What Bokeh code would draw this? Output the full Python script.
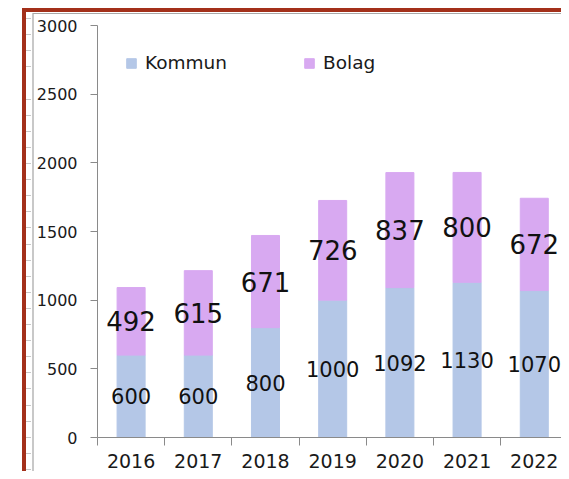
from bokeh.plotting import figure
from bokeh.models import ColumnDataSource, FixedTicker, Legend, LegendItem
from bokeh.core.properties import value
from bokeh.embed import file_html
from bokeh.resources import INLINE

# ---- data ----
years = ["2016", "2017", "2018", "2019", "2020", "2021", "2022"]
kommun = [600, 600, 800, 1000, 1092, 1130, 1070]
bolag = [492, 615, 671, 726, 837, 800, 672]
y_ticks = [0, 500, 1000, 1500, 2000, 2500, 3000]
series_names = ["Kommun", "Bolag"]
series_colors = ["#b4c7e7", "#d8a9f1"]

FONT = "DejaVu Sans"
RED = "#a3301a"
LIGHT = "#c8c8c8"

idx = list(range(len(years)))
total = [k + b for k, b in zip(kommun, bolag)]
src = ColumnDataSource(dict(
    x=idx,
    kommun=kommun,
    total=total,
    kmid=[k / 2 for k in kommun],
    bmid=[k + b / 2 for k, b in zip(kommun, bolag)],
    klab=[str(k) for k in kommun],
    blab=[str(b) for b in bolag],
))

# slide-frame decoration drawn as CSS background of the figure element
deco = ", ".join([
    f"repeating-linear-gradient(to bottom, rgba(0,0,0,0) 0px, rgba(0,0,0,0) 15.1px, {LIGHT} 15.1px, {LIGHT} 16.1px) 26px 3.3px / 5px 476px no-repeat",
    "linear-gradient(#a8a8a8, #a8a8a8) 33px 13px / 540px 1px no-repeat",
    f"linear-gradient({LIGHT}, {LIGHT}) 32px 13px / 2px 470px no-repeat",
    f"linear-gradient({RED}, {RED}) 22px 8px / 4px 480px no-repeat",
    f"linear-gradient({RED}, {RED}) 22px 8px / 560px 4px no-repeat",
    "#ffffff",
])

p = figure(frame_width=464, frame_height=412,
           x_range=(-0.5, 6.405), y_range=(0, 3000),
           output_backend="svg", toolbar_location=None,
           min_border_left=97, min_border_right=0,
           min_border_top=25, min_border_bottom=34,
           styles={"background": deco})
p.outline_line_color = None
p.xgrid.visible = False
p.ygrid.visible = False
p.border_fill_alpha = 0
p.background_fill_color = "white"

r1 = p.vbar(x="x", bottom=0, top="kommun", width=0.417, source=src,
            fill_color=series_colors[0], line_color=series_colors[0])
r2 = p.vbar(x="x", bottom="kommun", top="total", width=0.417, source=src,
            fill_color=series_colors[1], line_color=series_colors[1])

p.text(x="x", y="kmid", text="klab", source=src, text_font=value(FONT),
       text_font_size="21px", text_align="center", text_baseline="middle",
       text_color="#111111")
p.text(x="x", y="bmid", text="blab", source=src, text_font=value(FONT),
       text_font_size="26px", text_align="center", text_baseline="middle",
       text_color="#111111")

axis_col = "#8a8a8a"
xa = p.xaxis[0]
xa.ticker = FixedTicker(ticks=idx, minor_ticks=[i - 0.5 for i in idx])
xa.major_label_overrides = {i: y for i, y in zip(idx, years)}
xa.major_tick_line_color = None
xa.major_tick_out = 0
xa.major_tick_in = 0
xa.minor_tick_line_color = axis_col
xa.minor_tick_out = 8
xa.minor_tick_in = 0
xa.axis_line_color = axis_col
xa.major_label_standoff = 8
xa.major_label_text_font = FONT
xa.major_label_text_font_size = "19px"
xa.major_label_text_color = "#1a1a1a"

ya = p.yaxis[0]
ya.ticker = FixedTicker(ticks=y_ticks, minor_ticks=[])
ya.major_tick_line_color = axis_col
ya.major_tick_out = 7
ya.major_tick_in = 0
ya.minor_tick_line_color = None
ya.axis_line_color = axis_col
ya.major_label_standoff = 13
ya.major_label_text_font = FONT
ya.major_label_text_font_size = "16px"
ya.major_label_text_color = "#1a1a1a"

legend = Legend(items=[LegendItem(label=series_names[0], renderers=[r1]),
                       LegendItem(label=series_names[1], renderers=[r2])],
                orientation="horizontal", location=(28, 364), spacing=76,
                glyph_width=12, glyph_height=12, label_standoff=8,
                padding=0, margin=0, border_line_color=None,
                background_fill_alpha=0, label_text_font=FONT,
                label_text_font_size="18.5px", label_text_color="#1a1a1a")
p.add_layout(legend)

open("out.html", "w").write(file_html(p, INLINE))
